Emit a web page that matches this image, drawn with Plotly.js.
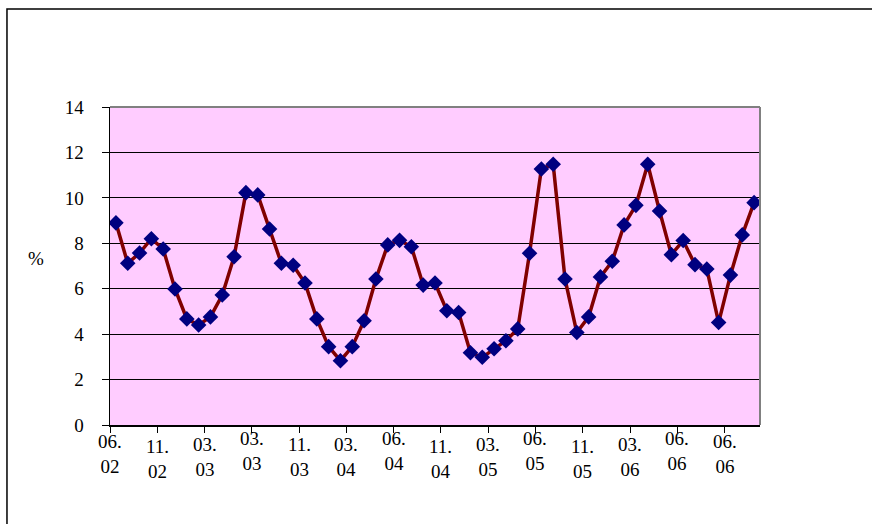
<!DOCTYPE html>
<html>
<head>
<meta charset="utf-8">
<script src="https://cdn.plot.ly/plotly-3.0.1.min.js"></script>
<style>html,body{margin:0;padding:0;background:#fff;}#chart{width:872px;height:524px;}</style>
</head>
<body>
<div id="chart"></div>
<script>
// 55 monthly observations, in %
var values = [8.9, 7.12, 7.57, 8.2, 7.75, 5.99, 4.67, 4.4, 4.76, 5.72, 7.41, 10.23, 10.13, 8.63, 7.12, 7.03, 6.25, 4.67, 3.45, 2.83,
  3.45, 4.59, 6.43, 7.93, 8.13, 7.85, 6.16, 6.25, 5.03, 4.95, 3.18, 2.98, 3.36, 3.71, 4.23, 7.56, 11.27, 11.48, 6.43, 4.07,
  4.76, 6.52, 7.21, 8.81, 9.67, 11.48, 9.42, 7.5, 8.12, 7.06, 6.87, 4.51, 6.6, 8.37, 9.79];
var tickLabels = ["06.<br>02", "11.<br>02", "03.<br>03", "03.<br>03", "11.<br>03", "03.<br>04", "06.<br>04",
  "11.<br>04", "03.<br>05", "06.<br>05", "11.<br>05", "03.<br>06", "06.<br>06", "06.<br>06"];
var labelShift = [-3, 2, 0, -6, 0, 0, -6, 2, 0, -6, 2, 0, -6, -3];

var xs = values.map(function (v, i) { return i; });
var tickVals = tickLabels.map(function (t, k) { return -0.5 + 4 * k; });

var font = {family: "Liberation Serif, Times New Roman, serif", size: 19, color: "#000"};

var annotations = tickLabels.map(function (t, k) {
  return {text: t, x: tickVals[k], xref: "x", y: 0, yref: "paper", yanchor: "top", xanchor: "center",
    yshift: -7 - labelShift[k], showarrow: false, font: font, align: "center"};
});
annotations.push({text: "%", x: -0.114, xref: "paper", y: 0.525, yref: "paper", showarrow: false,
  font: font, xanchor: "center", yanchor: "middle"});

var trace = {
  x: xs, y: values, type: "scatter", mode: "lines+markers",
  line: {color: "#800000", width: 3.5},
  marker: {symbol: "diamond", size: 12, color: "#000080", line: {width: 0}},
  hoverinfo: "y"
};

var layout = {
  width: 872, height: 524,
  margin: {l: 110, r: 112, t: 107, b: 99},
  paper_bgcolor: "#ffffff",
  plot_bgcolor: "#ffccff",
  showlegend: false,
  font: font,
  xaxis: {
    range: [-0.5, 54.5], tickmode: "array", tickvals: tickVals, showticklabels: false,
    ticks: "outside", ticklen: 6, tickcolor: "#000", tickwidth: 1,
    showline: true, linecolor: "#000", linewidth: 1.5, showgrid: false, zeroline: false, fixedrange: true
  },
  yaxis: {
    range: [0, 14], tickmode: "array", tickvals: [0, 2, 4, 6, 8, 10, 12, 14],
    ticks: "outside", ticklen: 7, tickcolor: "#000", tickwidth: 1, ticklabelstandoff: 14,
    showline: true, linecolor: "#000", linewidth: 1.5,
    showgrid: true, gridcolor: "#000", gridwidth: 1, zeroline: false, tickfont: font, fixedrange: true
  },
  annotations: annotations,
  shapes: [
    {type: "line", xref: "paper", yref: "paper", x0: 0, x1: 1, y0: 1, y1: 1, line: {color: "#808080", width: 2}},
    {type: "line", xref: "paper", yref: "paper", x0: 1, x1: 1, y0: 0, y1: 1, line: {color: "#808080", width: 2}},
    {type: "rect", xref: "paper", yref: "paper", x0: -0.1585, x1: 1.3, y0: -0.5, y1: 1.3082,
      line: {color: "#000", width: 1.5}, fillcolor: "rgba(0,0,0,0)"}
  ]
};

Plotly.newPlot("chart", [trace], layout, {displayModeBar: false, staticPlot: true});
</script>
</body>
</html>
